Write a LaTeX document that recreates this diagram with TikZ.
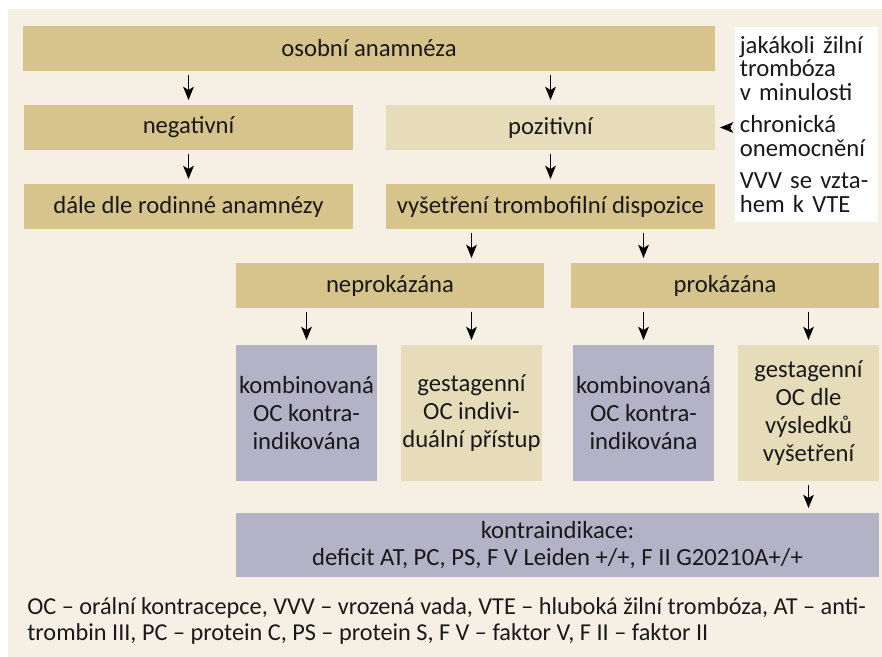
\documentclass[tikz,border=0pt]{standalone}
\usepackage{fontspec}
\setmainfont{Carlito}
\usetikzlibrary{arrows.meta}

\definecolor{boxtan}{HTML}{D6C48C}
\definecolor{boxlight}{HTML}{E6DCBA}
\definecolor{boxgrey}{HTML}{B3B2C6}
\definecolor{pagebg}{HTML}{F5EFE4}

\begin{document}
\begin{tikzpicture}[x=0.75pt, y=-0.75pt,
  box/.style={fill=boxtan, inner sep=0pt, text=black!90, align=center,
    font=\fontsize{18.5}{20.8}\selectfont, minimum height=33.75pt},
  wide/.style={box, minimum width=246.75pt},
  half/.style={box, minimum width=231pt},
  tall/.style={box, minimum width=105.75pt, minimum height=102pt},
  arr/.style={-{Stealth[length=10pt,width=8pt,inset=2.5pt]}, line width=0.9pt,
    shorten <=2.5pt, shorten >=3.5pt}]

\useasboundingbox (0,0) rectangle (882,657);
\fill[pagebg] (8,9) rectangle (882,657);

% Top rows
\node[box, minimum width=519pt] (anam) at (369,48.5) {osobní anamnéza};
\node[wide] (neg) at (188.5,127.5) {negativní};
\node[wide, fill=boxlight] (poz) at (550.5,127.5) {pozitivní};
\node[wide] (rod) at (188.5,206.5) {dále dle rodinné anamnézy};
\node[wide] (vys) at (550.5,206.5) {vyšetření trombofilní dispozice};

% Side note
\node[fill=white, inner sep=0pt, minimum width=107.25pt, minimum height=146.25pt,
  text width=100pt, align=left, font=\fontsize{18.5}{17.5}\selectfont, text=black!90]
  (info) at (806.5,124.5)
  {jakákoli žilní\\trombóza\\v minulosti\\[7pt]chronická\\onemocnění\\[7pt]VVV se vzta-\\hem k VTE};

% Result of the test
\node[half] (neprok) at (390,285.5) {neprokázána};
\node[half] (prok) at (725,285.5) {prokázána};

\node[tall, fill=boxgrey] (komba) at (306.5,413) {kombinovaná\\OC kontra-\\indikována};
\node[tall, fill=boxlight] (gesta) at (471.5,413) {gestagenní\\OC indivi-\\duální přístup};
\node[tall, fill=boxgrey] (kombb) at (643.5,413) {kombinovaná\\OC kontra-\\indikována};
\node[tall, fill=boxlight] (gestb) at (808.5,413) {gestagenní\\OC dle\\výsledků\\vyšetření};

\node[box, fill=boxgrey, minimum width=482.25pt, minimum height=48pt] (kontra) at (557.5,545)
  {kontraindikace:\\deficit AT, PC, PS, F V Leiden +/+, F II G20210A+/+};

% Footnote
\node[anchor=north west, inner sep=0pt, align=left, text=black!90,
  font=\fontsize{18.2}{20}\selectfont] (pozn) at (27,597)
  {OC – orální kontracepce, VVV – vrozená vada, VTE – hluboká žilní trombóza, AT – anti-\\
   trombin III, PC – protein C, PS – protein S, F V – faktor V, F II – faktor II};

% Arrows
\draw[arr] (anam.south -| neg) -- (neg.north);
\draw[arr] (anam.south -| poz) -- (poz.north);
\draw[arr] (neg) -- (rod);
\draw[arr] (poz) -- (vys);
\draw[arr] (info.west |- poz) -- (poz.east);
\draw[arr] (vys.south -| gesta) -- (neprok.north -| gesta);
\draw[arr] (vys.south -| kombb) -- (prok.north -| kombb);
\draw[arr] (neprok.south -| komba) -- (komba.north);
\draw[arr] (neprok.south -| gesta) -- (gesta.north);
\draw[arr] (prok.south -| kombb) -- (kombb.north);
\draw[arr] (prok.south -| gestb) -- (gestb.north);
\draw[arr] (gestb) -- (kontra.north -| gestb);

\end{tikzpicture}
\end{document}
